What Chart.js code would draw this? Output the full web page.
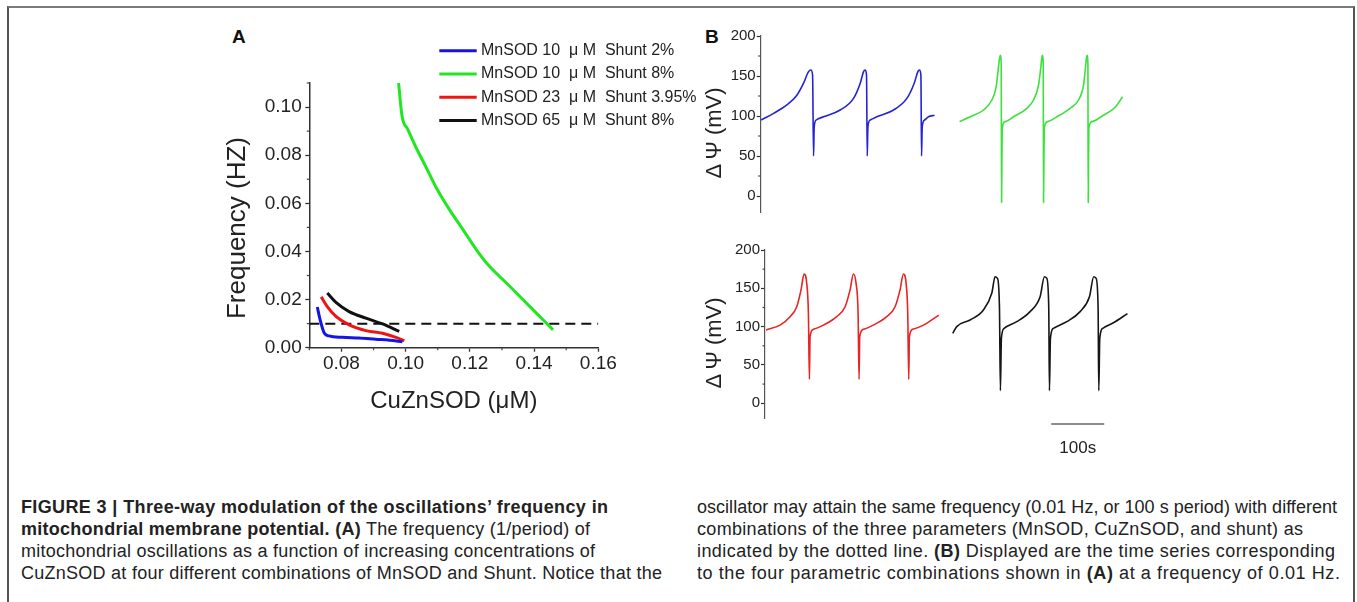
<!DOCTYPE html>
<html>
<head>
<meta charset="utf-8">
<script src="https://cdn.jsdelivr.net/npm/chart.js"></script>
<style>
  html, body { margin: 0; padding: 0; background: #fff; }
  body { width: 1357px; height: 602px; position: relative; overflow: hidden;
         font-family: 'Liberation Sans', Arial, sans-serif; color: #222; }
  .frame { position: absolute; left: 7px; top: 6px; width: 1348px; height: 620px; box-sizing: border-box;
           border-top: 2px solid #7a7a7a; border-left: 2px solid #555; border-right: 2px solid #555; }
  canvas { position: absolute; }
  #chartA { left: 200px; top: 20px; }
  #chartB1 { left: 690px; top: 20px; }
  #chartB2 { left: 690px; top: 235px; }
  .panel { position: absolute; font-weight: bold; font-size: 19px; line-height: 23px; color: #111; }
  .caption { position: absolute; top: 496px; font-size: 18px; line-height: 22px; color: #222; white-space: nowrap; }
  .caption div { height: 22px; }
</style>
</head>
<body>
<div class="frame"></div>
<div class="panel" style="left:232px; top:25px;">A</div>
<div class="panel" style="left:705px; top:25px;">B</div>
<canvas id="chartA" width="500" height="400"></canvas>
<canvas id="chartB1" width="450" height="205"></canvas>
<canvas id="chartB2" width="450" height="225"></canvas>

<div class="caption" style="left:21px;">
  <div><span><b>FIGURE 3 | Three-way modulation of the oscillations’ frequency in</b></span></div>
  <div><span><b>mitochondrial membrane potential. (A)</b> The frequency (1/period) of</span></div>
  <div><span>mitochondrial oscillations as a function of increasing concentrations of</span></div>
  <div><span>CuZnSOD at four different combinations of MnSOD and Shunt. Notice that the</span></div>
</div>
<div class="caption" style="left:697px;">
  <div><span>oscillator may attain the same frequency (0.01 Hz, or 100 s period) with different</span></div>
  <div><span>combinations of the three parameters (MnSOD, CuZnSOD, and shunt) as</span></div>
  <div><span>indicated by the dotted line. <b>(B)</b> Displayed are the time series corresponding</span></div>
  <div><span>to the four parametric combinations shown in <b>(A)</b> at a frequency of 0.01 Hz.</span></div>
</div>

<script>
// Panel A: frequency (Hz) vs CuZnSOD (uM)
const labelsA = ['MnSOD 10  \u03bc M  Shunt 2%', 'MnSOD 10  \u03bc M  Shunt 8%',
                 'MnSOD 23  \u03bc M  Shunt 3.95%', 'MnSOD 65  \u03bc M  Shunt 8%'];
const blueX = [0.0725, 0.0733, 0.0747, 0.0761, 0.0803, 0.0855, 0.0907, 0.0950, 0.0990];
const blueY = [0.0169, 0.0120, 0.0060, 0.0049, 0.0043, 0.0040, 0.0035, 0.0031, 0.0025];
const greenX = [0.0978, 0.0989, 0.1006, 0.1032, 0.1064, 0.1095, 0.1136, 0.1178, 0.1220, 0.1261, 0.1314, 0.1366, 0.1397, 0.1428, 0.1459];
const greenY = [0.1100, 0.0961, 0.0909, 0.0833, 0.0749, 0.0666, 0.0575, 0.0492, 0.0408, 0.0338, 0.0269, 0.0199, 0.0157, 0.0116, 0.0074];
const redX = [0.0737, 0.0756, 0.0783, 0.0824, 0.0876, 0.0928, 0.0970, 0.0996];
const redY = [0.0211, 0.0171, 0.0130, 0.0095, 0.0071, 0.0060, 0.0043, 0.0029];
const blackX = [0.0756, 0.0783, 0.0824, 0.0876, 0.0928, 0.0980];
const blackY = [0.0227, 0.0188, 0.0150, 0.0123, 0.0099, 0.0068];
const refX = [0.07, 0.16];
const refY = [0.01, 0.01];

// Panel B: membrane potential (mV) vs time (s)
const blueT = [0, 23.3, 48.4, 67.3, 79.9, 89.3, 93.7, 96.9, 98.7, 100, 103.8, 117.6, 149, 174.2, 186.8, 193.1, 196.2, 198.7, 200, 201.3,
               205.7, 218.2, 249.7, 274.8, 288.7, 295.6, 298.7, 301.3, 302.5, 303.8, 308.2, 315.7, 327];
const blueV = [95, 103.3, 113.8, 126, 141, 155.4, 157.5, 151, 50, 86.7, 95, 99, 107.5, 122, 141, 155.4, 157.5, 151, 50, 86.7,
               95, 99, 107.5, 122, 141, 155.4, 157.5, 151, 50, 86.7, 95, 99, 101];
const greenT = [374.2, 394.3, 419.5, 435.2, 443.4, 447.8, 450.9, 452.8, 453.5, 454.7, 460.4, 476.1, 501.3, 513.8, 523.3, 527.7, 530.2,
                532.1, 532.7, 534, 540.3, 557.9, 583, 598.7, 608.2, 612, 614.5, 616.4, 617, 618.2, 623.9, 645.9, 667.9, 681.8];
const greenV = [93, 99, 107.5, 120, 136.7, 161.7, 176, 166, -8, 84.6, 93, 99, 109.6, 120, 138.75, 161.7, 176,
                166, -8, 84.6, 93, 99, 109.6, 120, 138.75, 161.7, 176, 166, -8, 84.6, 93, 101, 111, 124];
const redT = [0, 26.4, 45.3, 57.9, 66, 71.7, 76.7, 79.9, 81.8, 83, 89.3, 108.2, 133.3, 149.1, 158.5, 164.8, 169.8, 173.6, 175.5, 176.7,
              183.6, 202.5, 227.7, 243.4, 252.8, 259.1, 264.2, 267.3, 269.2, 270.4, 276.7, 296.9, 325.8];
const redV = [95.7, 102, 113, 126, 148, 168.7, 156.5, 117, 31.3, 87, 96.5, 102, 113, 126, 148, 168.7, 156.5, 117, 31.3, 87,
              96.5, 102, 113, 126, 148, 168.7, 156.5, 117, 31.3, 87, 96.5, 102, 115];
const blackT = [352.2, 359.7, 384.9, 410.1, 425.8, 432.1, 436.5, 440.3, 442.1, 444, 449.1, 472.9, 498.1, 517, 525.2, 529.6, 533.3,
                534.6, 536.5, 542.1, 567.3, 592.5, 610.1, 618.2, 622.6, 626.4, 627.7, 629.6, 635.2, 655.3, 681.8];
const blackV = [91.3, 100, 108.7, 121.7, 143.5, 165, 163, 126, 16.5, 84.8, 97.8, 106.5, 119.6, 139, 165, 163, 126,
                16.5, 84.8, 97.8, 106.5, 119.6, 139, 165, 163, 126, 16.5, 84.8, 97.8, 105, 117];
const scaleBarT = [538, 638];

// right edge of each caption line in the figure (left column, then right column)
const captionEnds = [608, 590, 595, 662, 1337, 1303, 1335, 1340];
document.querySelectorAll('.caption span').forEach((sp, i) => {
  const r = sp.getBoundingClientRect();
  const n = sp.textContent.length - 1;
  sp.style.letterSpacing = ((captionEnds[i] - r.right) / n).toFixed(3) + 'px';
});

const FONT = "'Liberation Sans', Arial, sans-serif";
Chart.defaults.font.family = FONT;
Chart.defaults.color = '#222';

function pts(xs, ys) { return xs.map((x, i) => ({ x: x, y: ys[i] })); }

// major ticks get a tick mark from chart.js, empty-label ticks are drawn short here
const tickColor = c => (c.tick && c.tick.label === '') ? 'rgba(0,0,0,0)' : '#333';
const minorTicks = {
  id: 'minorTicks',
  afterDraw(chart, args, o) {
    const ctx = chart.ctx;
    ctx.save();
    ctx.strokeStyle = '#444';
    ctx.lineWidth = 1.2;
    Object.values(chart.scales).forEach(s => {
      if (!s.options.display) return;
      s.ticks.forEach(t => {
        if (t.label !== '') return;
        const p = s.getPixelForValue(t.value);
        ctx.beginPath();
        if (s.isHorizontal()) { ctx.moveTo(p, s.top); ctx.lineTo(p, s.top + (o.len || 2.5)); }
        else { ctx.moveTo(s.right, p); ctx.lineTo(s.right - (o.len || 2.5), p); }
        ctx.stroke();
      });
    });
    ctx.restore();
  }
};

const sideTitle = {
  id: 'sideTitle',
  afterDraw(chart, args, o) {
    if (!o.text) return;
    const ctx = chart.ctx;
    ctx.save();
    ctx.translate(o.x, o.y);
    ctx.rotate(-Math.PI / 2);
    ctx.font = o.size + 'px ' + FONT;
    ctx.fillStyle = '#222';
    ctx.textAlign = 'center';
    ctx.textBaseline = 'middle';
    ctx.fillText(o.text, 0, 0);
    ctx.restore();
  }
};

const lineLegend = {
  id: 'lineLegend',
  afterDraw(chart, args, o) {
    if (!o.size) return;
    const ctx = chart.ctx;
    ctx.save();
    ctx.font = o.size + 'px ' + FONT;
    ctx.textBaseline = 'middle';
    let row = 0;
    chart.data.datasets.forEach(ds => {
      if (!ds.label) return;
      const y = o.y + row * o.rowHeight;
      ctx.strokeStyle = ds.borderColor;
      ctx.lineWidth = ds.borderWidth;
      ctx.beginPath();
      ctx.moveTo(o.x, y);
      ctx.lineTo(o.x + o.lineLength, y);
      ctx.stroke();
      ctx.fillStyle = '#222';
      ctx.fillText(ds.label, o.x + o.lineLength + o.gap, y);
      row++;
    });
    ctx.restore();
  }
};

const scaleBar = {
  id: 'scaleBar',
  afterDraw(chart, args, o) {
    if (!o.text) return;
    const ctx = chart.ctx, xs = chart.scales.x;
    const x1 = xs.getPixelForValue(scaleBarT[0]), x2 = xs.getPixelForValue(scaleBarT[1]);
    const y = chart.chartArea.bottom + o.offset;
    ctx.save();
    ctx.strokeStyle = '#666';
    ctx.lineWidth = 1.5;
    ctx.beginPath();
    ctx.moveTo(x1, y);
    ctx.lineTo(x2, y);
    ctx.stroke();
    ctx.font = o.size + 'px ' + FONT;
    ctx.fillStyle = '#222';
    ctx.textAlign = 'center';
    ctx.textBaseline = 'middle';
    ctx.fillText(o.text, (x1 + x2) / 2, chart.chartArea.bottom + o.textOffset);
    ctx.restore();
  }
};

const plugins = [minorTicks, sideTitle, lineLegend, scaleBar];
const even2 = v => (Math.round(v * 100) % 2 === 0 ? v.toFixed(2) : '');

new Chart(document.getElementById('chartA'), {
  type: 'line',
  data: {
    datasets: [
      { label: labelsA[0], data: pts(blueX, blueY), borderColor: '#1414e6', borderWidth: 3 },
      { label: labelsA[1], data: pts(greenX, greenY), borderColor: '#22e622', borderWidth: 3 },
      { label: labelsA[2], data: pts(redX, redY), borderColor: '#ee1414', borderWidth: 3 },
      { label: labelsA[3], data: pts(blackX, blackY), borderColor: '#111111', borderWidth: 3 },
      { label: '', data: pts(refX, refY), borderColor: '#111111', borderWidth: 2, borderDash: [10, 6] }
    ]
  },
  options: {
    responsive: false,
    animation: false,
    elements: { point: { radius: 0 }, line: { cubicInterpolationMode: 'monotone', fill: false } },
    layout: { padding: { left: 0, top: 63, right: 101.7, bottom: 0 } },
    plugins: {
      legend: { display: false },
      tooltip: { enabled: false },
      minorTicks: { len: 2.5 },
      sideTitle: { text: 'Frequency (HZ)', size: 26, x: 38, y: 208 },
      lineLegend: { x: 239.3, y: 30.7, rowHeight: 23.3, lineLength: 37.4, gap: 4.3, size: 16 }
    },
    scales: {
      x: {
        type: 'linear', min: 0.07, max: 0.16,
        afterFit: s => { s.height = 72.3; },
        border: { color: '#333', width: 1.5 },
        grid: { drawOnChartArea: false, tickLength: 4, tickWidth: 1.3, tickColor: tickColor },
        ticks: { stepSize: 0.01, autoSkip: false, maxRotation: 0, padding: 1, font: { size: 19 }, callback: even2 },
        title: { display: true, text: 'CuZnSOD (\u03bcM)', font: { size: 24 }, color: '#222', padding: { top: 0, bottom: 4 } }
      },
      y: {
        min: 0, max: 0.11,
        afterFit: s => { s.width = 109.3; },
        border: { color: '#333', width: 1.5 },
        grid: { drawOnChartArea: false, tickLength: 4, tickWidth: 1.3, tickColor: tickColor },
        ticks: { stepSize: 0.01, autoSkip: false, padding: 3.6, font: { size: 19 }, callback: even2 }
      }
    }
  },
  plugins: plugins
});

function traceChart(id, sets, yWidth, xMin, pad, title, bar) {
  return new Chart(document.getElementById(id), {
    type: 'line',
    data: { datasets: sets },
    options: {
      responsive: false,
      animation: false,
      elements: { point: { radius: 0 }, line: { cubicInterpolationMode: 'monotone', fill: false, borderWidth: 1.6 } },
      layout: { padding: pad },
      plugins: {
        legend: { display: false },
        tooltip: { enabled: false },
        minorTicks: { len: 2.5 },
        sideTitle: title,
        scaleBar: bar
      },
      scales: {
        x: { type: 'linear', display: false, min: xMin, max: 690 },
        y: {
          min: -20, max: 200,
          afterFit: s => { s.width = yWidth; },
          border: { color: '#555', width: 1.2 },
          grid: { drawOnChartArea: false, tickLength: 4, tickWidth: 1.2, tickColor: tickColor },
          ticks: { stepSize: 25, includeBounds: false, autoSkip: false, padding: 1, font: { size: 15 },
                   callback: v => (v % 50 === 0 ? String(v) : '') }
        }
      }
    },
    plugins: plugins
  });
}

traceChart('chartB1', [
  { label: '', data: pts(blueT, blueV), borderColor: '#2424d2' },
  { label: '', data: pts(greenT, greenV), borderColor: '#3ee03e' }
], 70.7, -1, { left: 0, top: 16, right: 13.1, bottom: 13 },
  { text: '\u0394\u2009\u03a8 (mV)', size: 22, x: 24.5, y: 113 }, {});

traceChart('chartB2', [
  { label: '', data: pts(redT, redV), borderColor: '#e82424' },
  { label: '', data: pts(blackT, blackV), borderColor: '#161616' }
], 75, -2, { left: 0, top: 15, right: 8.2, bottom: 41.4 },
  { text: '\u0394\u2009\u03a8 (mV)', size: 22, x: 24.5, y: 108 },
  { text: '100s', offset: 5.4, textOffset: 29.4, size: 17 });
</script>
</body>
</html>
